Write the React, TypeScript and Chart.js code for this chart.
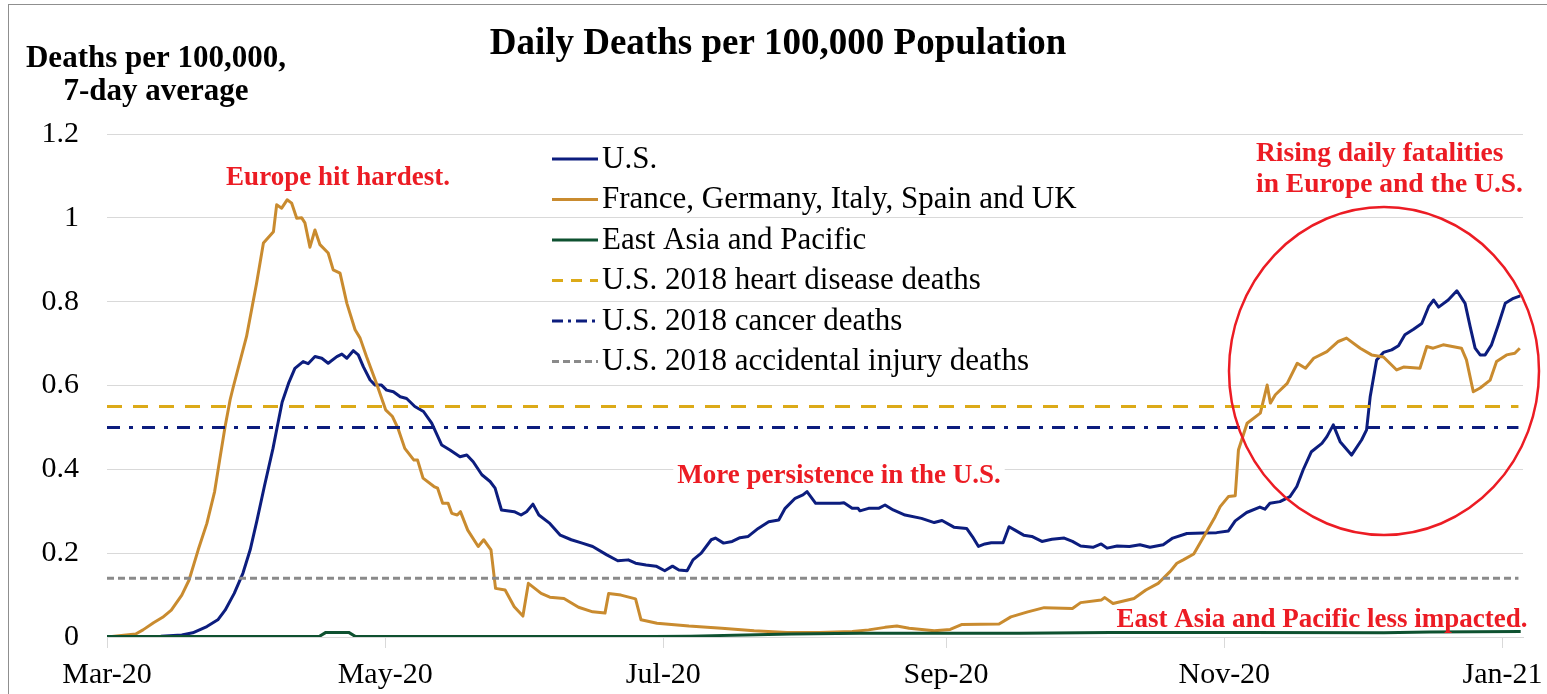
import React, { useEffect, useRef } from "react";
import { Chart, registerables } from "chart.js";

Chart.register(...registerables);

// ---- Axis definitions (x = days since 1 Mar 2020) ----
const MONTH_TICK_DAYS = [0, 61, 122, 184, 245, 306];
const MONTH_TICK_LABELS = ["Mar-20", "May-20", "Jul-20", "Sep-20", "Nov-20", "Jan-21"];
const X_MAX_DAY = 310.5;
const Y_MAX = 1.2;
const Y_STEP = 0.2;

// ---- U.S. ----
const usDays = [0, 11.8, 16.4, 18.8, 21.9, 24.3, 25.9, 27.9, 29.8, 31.4, 32.9, 34.5, 36.4, 37.3, 38.4, 39.8, 41.2, 43.0, 44.1, 45.6, 47.1, 48.5, 50.4, 51.5, 52.6, 54.0, 55.1, 56.2, 57.7, 58.8, 60.2, 61.3, 62.8, 64.3, 65.7, 67.5, 69.4, 71.2, 73.4, 75.2, 77.4, 78.9, 80.3, 82.2, 84.0, 85.1, 86.5, 89.3, 90.8, 92.0, 93.4, 94.7, 97.1, 99.4, 101.8, 104.2, 106.5, 109.6, 112.0, 114.3, 115.9, 118.2, 120.4, 122.3, 124.0, 125.4, 127.2, 128.5, 130.3, 132.5, 133.4, 135.2, 137.1, 138.8, 140.6, 142.8, 145.1, 147.3, 148.7, 150.9, 152.6, 153.5, 155.4, 160.7, 161.6, 163.4, 164.7, 165.1, 167.0, 169.2, 170.6, 172.4, 175.0, 178.6, 181.4, 183.1, 185.7, 188.5, 189.8, 191.1, 192.5, 193.9, 196.5, 197.8, 199.1, 201.0, 202.8, 205.0, 207.2, 209.9, 211.7, 213.5, 216.2, 218.0, 219.3, 221.5, 224.2, 226.5, 228.7, 231.6, 233.7, 236.8, 240.4, 243.3, 245.9, 247.4, 249.9, 252.8, 253.9, 255.0, 257.2, 259.4, 260.9, 262.3, 264.1, 266.4, 267.5, 268.9, 270.4, 272.9, 275.1, 276.2, 277.0, 278.4, 279.9, 281.7, 283.2, 284.6, 286.5, 288.3, 289.8, 290.9, 292.0, 294.1, 296.0, 297.8, 298.9, 300.0, 301.1, 302.2, 303.6, 305.1, 306.6, 308.4, 309.9];
const usValues = [0, 0.002, 0.005, 0.01, 0.025, 0.041, 0.064, 0.104, 0.152, 0.208, 0.279, 0.359, 0.45, 0.5, 0.56, 0.605, 0.641, 0.657, 0.652, 0.669, 0.665, 0.653, 0.669, 0.675, 0.665, 0.683, 0.673, 0.645, 0.613, 0.601, 0.601, 0.589, 0.585, 0.573, 0.569, 0.55, 0.538, 0.51, 0.458, 0.446, 0.43, 0.434, 0.418, 0.387, 0.371, 0.355, 0.303, 0.299, 0.291, 0.299, 0.317, 0.291, 0.271, 0.243, 0.232, 0.224, 0.216, 0.196, 0.182, 0.184, 0.176, 0.172, 0.169, 0.158, 0.169, 0.16, 0.158, 0.184, 0.2, 0.232, 0.236, 0.224, 0.228, 0.237, 0.24, 0.259, 0.275, 0.279, 0.307, 0.331, 0.339, 0.347, 0.319, 0.319, 0.32, 0.307, 0.307, 0.301, 0.307, 0.307, 0.315, 0.303, 0.291, 0.283, 0.273, 0.278, 0.262, 0.259, 0.239, 0.216, 0.222, 0.225, 0.225, 0.263, 0.255, 0.243, 0.24, 0.228, 0.233, 0.236, 0.228, 0.217, 0.214, 0.222, 0.212, 0.217, 0.216, 0.22, 0.214, 0.22, 0.236, 0.247, 0.248, 0.249, 0.253, 0.277, 0.297, 0.31, 0.305, 0.319, 0.323, 0.335, 0.359, 0.399, 0.442, 0.462, 0.478, 0.506, 0.466, 0.434, 0.47, 0.494, 0.574, 0.661, 0.679, 0.685, 0.695, 0.721, 0.734, 0.748, 0.788, 0.804, 0.787, 0.804, 0.826, 0.796, 0.741, 0.689, 0.673, 0.673, 0.697, 0.745, 0.796, 0.808, 0.814];

// ---- France, Germany, Italy, Spain and UK ----
const europeDays = [0, 6.3, 7.9, 10.2, 12.2, 14.1, 16.4, 18.0, 20.0, 21.9, 23.6, 24.7, 25.9, 27.0, 27.7, 30.6, 32.8, 34.3, 36.5, 37.2, 38.3, 39.5, 40.5, 41.6, 42.7, 43.4, 44.5, 45.6, 46.7, 48.5, 49.6, 51.1, 52.6, 54.4, 55.5, 56.9, 59.1, 61.1, 62.6, 63.8, 65.3, 67.3, 68.1, 69.3, 71.7, 72.5, 73.6, 74.8, 75.6, 76.8, 77.5, 79.1, 81.4, 82.6, 84.2, 85.2, 87.3, 89.3, 91.2, 92.4, 95.2, 97.1, 100.2, 103.4, 106.5, 109.2, 110.0, 112.7, 115.9, 117.1, 120.6, 127.6, 134.8, 141.9, 149.1, 156.2, 163.4, 167.0, 170.6, 173.2, 175.9, 181.4, 184.9, 187.5, 195.6, 198.2, 201.9, 205.5, 211.7, 213.5, 218.0, 218.8, 220.6, 225.2, 227.8, 230.5, 233.1, 234.6, 236.0, 238.3, 240.8, 243.0, 244.1, 245.9, 247.4, 248.1, 250.0, 252.9, 254.4, 255.1, 256.2, 258.8, 261.0, 262.8, 264.6, 267.5, 270.0, 271.8, 274.8, 277.3, 279.9, 282.8, 284.3, 287.9, 289.4, 290.8, 293.0, 297.0, 298.1, 299.6, 301.1, 303.3, 304.7, 306.9, 308.7, 309.8];
const europeValues = [0, 0.007, 0.017, 0.034, 0.047, 0.064, 0.1, 0.136, 0.208, 0.271, 0.347, 0.422, 0.502, 0.566, 0.597, 0.717, 0.844, 0.94, 0.967, 1.031, 1.023, 1.043, 1.035, 0.999, 1.0, 0.988, 0.93, 0.971, 0.936, 0.916, 0.876, 0.868, 0.796, 0.733, 0.713, 0.669, 0.605, 0.542, 0.526, 0.498, 0.45, 0.422, 0.422, 0.379, 0.359, 0.355, 0.319, 0.319, 0.295, 0.291, 0.299, 0.255, 0.216, 0.232, 0.208, 0.116, 0.112, 0.072, 0.05, 0.128, 0.104, 0.095, 0.092, 0.071, 0.06, 0.057, 0.104, 0.1, 0.091, 0.041, 0.033, 0.026, 0.021, 0.015, 0.011, 0.011, 0.013, 0.017, 0.023, 0.026, 0.021, 0.015, 0.018, 0.03, 0.031, 0.048, 0.06, 0.07, 0.068, 0.082, 0.088, 0.094, 0.08, 0.092, 0.112, 0.128, 0.156, 0.176, 0.184, 0.198, 0.245, 0.287, 0.311, 0.335, 0.337, 0.446, 0.51, 0.534, 0.601, 0.558, 0.578, 0.605, 0.653, 0.641, 0.665, 0.681, 0.705, 0.713, 0.689, 0.673, 0.668, 0.637, 0.644, 0.641, 0.693, 0.689, 0.697, 0.689, 0.661, 0.585, 0.594, 0.613, 0.657, 0.673, 0.677, 0.689];

// ---- East Asia and Pacific ----
const eastAsiaDays = [0, 46.5, 48, 53, 54.5, 120, 128, 140, 150, 165, 200, 220, 250, 280, 290, 310];
const eastAsiaValues = [0.001, 0.001, 0.011, 0.011, 0.001, 0.001, 0.002, 0.005, 0.007, 0.009, 0.009, 0.011, 0.011, 0.01, 0.012, 0.013];

// ---- U.S. 2018 reference daily death rates ----
const REF_LINE_DAYS = [0, 309.5];
const HEART_DISEASE_RATE = 0.55;
const CANCER_RATE = 0.5;
const ACCIDENT_RATE = 0.14;

const SERIF = "'Liberation Serif', 'Times New Roman', serif";
const RED = "#ec1c24";
const C_US = "#0c1d7e";
const C_EU = "#c98b2f";
const C_EA = "#0e5130";
const C_HEART = "#dcaa18";
const C_CANCER = "#0c1d7e";
const C_ACC = "#8a8a8a";
const GRID = "#d9d9d9";

const DASH_HEART = [15, 11];
const DASH_CANCER = [13, 9, 4, 9];
const DASH_ACC = [7, 4];

const LEGEND_ITEMS = [
  { label: "U.S.", color: C_US, dash: [] as number[] },
  { label: "France, Germany, Italy, Spain and UK", color: C_EU, dash: [] as number[] },
  { label: "East Asia and Pacific", color: C_EA, dash: [] as number[] },
  { label: "U.S. 2018 heart disease deaths", color: C_HEART, dash: [11, 8] },
  { label: "U.S. 2018 cancer deaths", color: C_CANCER, dash: [11, 5, 3, 5] },
  { label: "U.S. 2018 accidental injury deaths", color: C_ACC, dash: [7, 4] },
];

const pts = (days: number[], vals: number[]) => days.map((d, i) => ({ x: d, y: vals[i] }));
const flat = (v: number) => REF_LINE_DAYS.map((d) => ({ x: d, y: v }));

const overlayPlugin = {
  id: "overlay",
  afterDraw(chart: any) {
    const ctx: CanvasRenderingContext2D = chart.ctx;
    ctx.save();
    // outer frame
    ctx.strokeStyle = "#8f8f8f";
    ctx.lineWidth = 1;
    ctx.setLineDash([]);
    ctx.strokeRect(8.5, 4.5, 1600, 720);

    // title
    ctx.fillStyle = "#000";
    ctx.textBaseline = "alphabetic";
    ctx.textAlign = "center";
    ctx.font = `bold 37px ${SERIF}`;
    ctx.fillText("Daily Deaths per 100,000 Population", 778, 54);

    // y-axis title
    ctx.font = `bold 31px ${SERIF}`;
    ctx.fillText("Deaths per 100,000,", 156, 67);
    ctx.fillText("7-day average", 156, 100);

    // legend
    ctx.textAlign = "left";
    ctx.font = `31px ${SERIF}`;
    LEGEND_ITEMS.forEach((it, i) => {
      const base = 167.5 + 40.5 * i;
      const ly = base - 8.5;
      ctx.strokeStyle = it.color;
      ctx.lineWidth = 3;
      ctx.setLineDash(it.dash);
      ctx.beginPath();
      ctx.moveTo(552, ly);
      ctx.lineTo(598, ly);
      ctx.stroke();
      ctx.setLineDash([]);
      ctx.fillStyle = "#000";
      ctx.fillText(it.label, 602, base);
    });

    // annotations
    ctx.font = `bold 27px ${SERIF}`;
    ctx.fillStyle = RED;
    ctx.textAlign = "center";
    ctx.fillText("Europe hit hardest.", 338, 185);

    const t2 = "More persistence in the U.S.";
    const w2 = ctx.measureText(t2).width;
    ctx.fillStyle = "#fff";
    ctx.fillRect(839 - w2 / 2 - 4, 459, w2 + 8, 29);
    ctx.fillStyle = RED;
    ctx.fillText(t2, 839, 483);

    ctx.fillText("East Asia and Pacific less impacted.", 1322, 627);

    ctx.textAlign = "left";
    ctx.font = `bold 27.5px ${SERIF}`;
    ctx.fillText("Rising daily fatalities", 1256, 161);
    ctx.fillText("in Europe and the U.S.", 1256, 192);

    // circle
    ctx.strokeStyle = RED;
    ctx.lineWidth = 2.5;
    ctx.beginPath();
    ctx.ellipse(1384, 371, 155, 164, 0, 0, Math.PI * 2);
    ctx.stroke();

    ctx.restore();
  },
};

export default function App() {
  const ref = useRef<HTMLCanvasElement | null>(null);

  useEffect(() => {
    const canvas = ref.current;
    if (!canvas) return;
    const lineDs = (label: string, data: any[], color: string, order: number, dash: number[] = []) => ({
      label,
      data,
      borderColor: color,
      backgroundColor: color,
      borderWidth: 3,
      borderDash: dash,
      pointRadius: 0,
      tension: 0,
      fill: false,
      order,
    });
    const chart = new Chart(canvas, {
      type: "line",
      data: {
        datasets: [
          lineDs("U.S.", pts(usDays, usValues), C_US, 6),
          lineDs("France, Germany, Italy, Spain and UK", pts(europeDays, europeValues), C_EU, 5),
          lineDs("East Asia and Pacific", pts(eastAsiaDays, eastAsiaValues), C_EA, 4),
          lineDs("U.S. 2018 heart disease deaths", flat(HEART_DISEASE_RATE), C_HEART, 3, DASH_HEART),
          lineDs("U.S. 2018 cancer deaths", flat(CANCER_RATE), C_CANCER, 2, DASH_CANCER),
          lineDs("U.S. 2018 accidental injury deaths", flat(ACCIDENT_RATE), C_ACC, 1, DASH_ACC),
        ] as any,
      },
      options: {
        responsive: false,
        animation: false,
        devicePixelRatio: 1,
        layout: { padding: { left: 0, right: 24, top: 134, bottom: 0 } },
        plugins: {
          legend: { display: false },
          tooltip: { enabled: false },
          title: { display: false },
        },
        elements: { line: { borderCapStyle: "butt", borderJoinStyle: "round" } },
        scales: {
          x: {
            type: "linear",
            min: 0,
            max: X_MAX_DAY,
            afterFit: (s: any) => {
              s.height = 57;
              s.paddingLeft = 0;
              s.paddingRight = 0;
            },
            afterBuildTicks: (s: any) => {
              s.ticks = MONTH_TICK_DAYS.map((v) => ({ value: v }));
            },
            ticks: {
              autoSkip: false,
              maxRotation: 0,
              padding: 9,
              color: "#000",
              font: { family: SERIF, size: 30 },
              callback: (v: any) => {
                const i = MONTH_TICK_DAYS.indexOf(Number(v));
                return i >= 0 ? MONTH_TICK_LABELS[i] : "";
              },
            },
            grid: { drawOnChartArea: false, drawTicks: true, tickLength: 11, color: GRID, lineWidth: 1 },
            border: { display: true, color: GRID, width: 1 },
          },
          y: {
            min: 0,
            max: Y_MAX,
            afterFit: (s: any) => {
              s.width = 107;
              s.paddingTop = 0;
              s.paddingBottom = 0;
            },
            ticks: {
              stepSize: Y_STEP,
              padding: 28,
              color: "#000",
              font: { family: SERIF, size: 30 },
              callback: (v: any) => String(Number(Number(v).toFixed(1))),
            },
            grid: { color: GRID, drawTicks: false, lineWidth: 1 },
            border: { display: false },
          },
        },
      } as any,
      plugins: [overlayPlugin],
    });
    return () => chart.destroy();
  }, []);

  return (
    <div style={{ position: "fixed", left: 0, top: 0, width: 1547, height: 694, background: "#fff" }}>
      <canvas ref={ref} width={1547} height={694} style={{ display: "block", width: 1547, height: 694 }} />
    </div>
  );
}
